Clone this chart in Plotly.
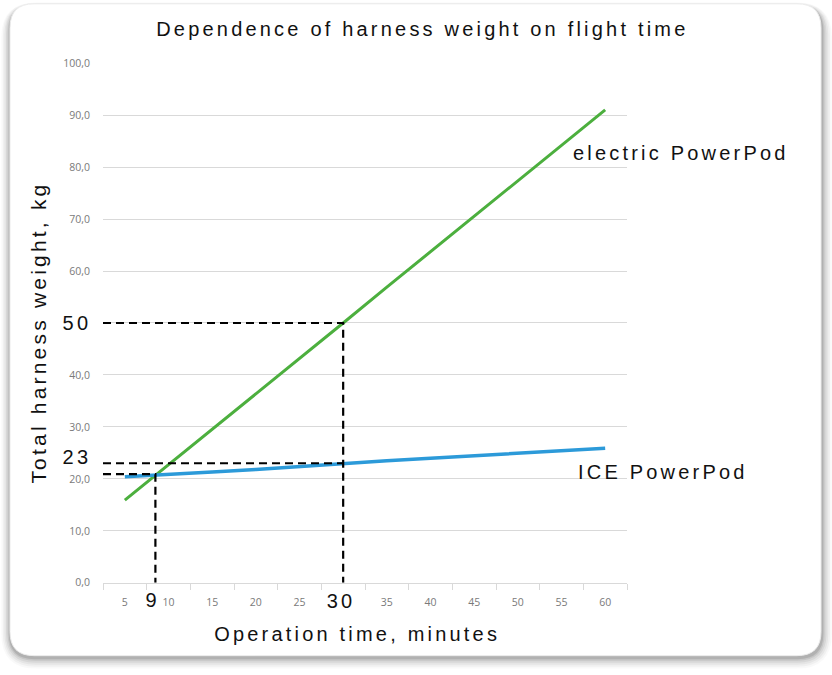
import plotly.graph_objects as go

# data
minutes = [5, 10, 15, 20, 25, 30, 35, 40, 45, 50, 55, 60]
electric = [15.9, 22.7, 29.6, 36.4, 43.2, 50.0, 56.9, 63.7, 70.5, 77.4, 84.2, 91.0]
ice = [20.4, 20.8, 21.3, 21.8, 22.4, 23.0, 23.5, 23.95, 24.4, 24.9, 25.4, 25.9]
y_ticks = [0, 10, 20, 30, 40, 50, 60, 70, 80, 90, 100]
y_labels = ["0,0", "10,0", "20,0", "30,0", "40,0", "", "60,0", "70,0", "80,0", "90,0", "100,0"]
x_labels = ["5", "10", "15", "20", "25", "", "35", "40", "45", "50", "55", "60"]

# guide lines (x, y) pairs
guide_x = [2.5, 30, 30, None, 2.5, 30, None, 2.5, 8.5, 8.5]
guide_y = [50, 50, 0, None, 23.0, 23.0, None, 20.9, 20.9, 0]

W, H = 832, 675
FONT = "Liberation Sans"
# the photographed page comes out slightly squeezed vertically; undo that
SQ, OFF = 0.981, 6.2


def px(x):
    return x / W


def py(y):
    return 1 - ((y - OFF) / SQ) / H


def rounded(x0, y0, x1, y1, r):
    # rounded rectangle path in paper coords, pixel inputs
    pts = [
        f"M {px(x0 + r)} {py(y0)}",
        f"L {px(x1 - r)} {py(y0)}",
        f"Q {px(x1)} {py(y0)} {px(x1)} {py(y0 + r)}",
        f"L {px(x1)} {py(y1 - r)}",
        f"Q {px(x1)} {py(y1)} {px(x1 - r)} {py(y1)}",
        f"L {px(x0 + r)} {py(y1)}",
        f"Q {px(x0)} {py(y1)} {px(x0)} {py(y1 - r)}",
        f"L {px(x0)} {py(y0 + r)}",
        f"Q {px(x0)} {py(y0)} {px(x0 + r)} {py(y0)}",
        "Z",
    ]
    return " ".join(pts)


fig = go.Figure()

fig.add_trace(go.Scatter(x=minutes, y=electric, mode="lines",
                         line=dict(color="#4caf3e", width=3), hoverinfo="skip"))
fig.add_trace(go.Scatter(x=minutes, y=ice, mode="lines",
                         line=dict(color="#2c9ad9", width=3.5), hoverinfo="skip"))
fig.add_trace(go.Scatter(x=guide_x, y=guide_y, mode="lines", connectgaps=False,
                         line=dict(color="black", width=2.2, dash="8px,5px"),
                         hoverinfo="skip"))

# card with soft shadow
shapes = []
for g, a in [(11, 0.025), (9, 0.035), (7, 0.045), (5, 0.06), (3, 0.08), (1.5, 0.1)]:
    shapes.append(dict(type="path", xref="paper", yref="paper", layer="below",
                       path=rounded(10 - g * 0.8, 3 - g * 0.3 + 2, 822 + g * 0.9, 657 + g + 1, 24 + g),
                       fillcolor=f"rgba(0,0,0,{a})", line=dict(width=0)))
shapes.append(dict(type="path", xref="paper", yref="paper", layer="below",
                   path=rounded(10, 3, 821, 656, 24),
                   fillcolor="white", line=dict(color="#ececec", width=1)))

annots = [
    dict(text="electric PowerPod", x=px(571), y=py(152), xanchor="left", size=20),
    dict(text="ICE PowerPod", x=px(576), y=py(472), xanchor="left", size=20),
    dict(text="50", x=px(93), y=py(323), xanchor="right", size=20),
    dict(text="23", x=px(93), y=py(457), xanchor="right", size=20),
    dict(text="9", x=px(152), y=py(600), xanchor="center", size=20),
    dict(text="30", x=px(341), y=py(601), xanchor="center", size=20),
    dict(text="Dependence of harness weight on flight time",
         x=px(422), y=py(28), xanchor="center", size=20),
    dict(text="Operation time, minutes", x=px(357), y=py(634), xanchor="center", size=20),
]
annotations = [dict(xref="paper", yref="paper", x=a["x"], y=a["y"], text=a["text"],
                    xanchor=a["xanchor"], yanchor="middle", showarrow=False,
                    align={"left": "left", "right": "right"}.get(a["xanchor"], "center"),
                    font=dict(family=FONT, size=a["size"], color="#111111"))
               for a in annots]
annotations.append(dict(xref="paper", yref="paper", x=px(38), y=py(333),
                        text="Total harness weight, kg", textangle=-90,
                        showarrow=False, xanchor="center", yanchor="middle",
                        font=dict(family=FONT, size=21, color="#111111")))

fig.update_layout(
    width=W, height=H,
    margin=dict(l=0, r=0, t=0, b=0),
    paper_bgcolor="white",
    plot_bgcolor="rgba(0,0,0,0)",
    showlegend=False,
    separators=",.",
    shapes=shapes,
    annotations=annotations,
    xaxis=dict(
        domain=[px(103), px(627)],
        range=[2.5, 62.5],
        tickvals=minutes,
        ticktext=x_labels,
        ticks="",
        showgrid=False,
        zeroline=False,
        showline=True, linecolor="#d9d9d9", linewidth=1,
        tickfont=dict(family="Open Sans", size=10.5, color="#7a7a7a"),
        ticklabelstandoff=10,
        minor=dict(tick0=2.5, dtick=5, ticks="outside", ticklen=6,
                   tickcolor="#d9d9d9", showgrid=False),
    ),
    yaxis=dict(
        domain=[py(583), py(62.5)],
        range=[0, 100],
        tickvals=y_ticks,
        ticktext=y_labels,
        ticks="",
        showgrid=True, gridcolor="#d9d9d9", gridwidth=1,
        zeroline=False,
        showline=False,
        tickfont=dict(family="Open Sans", size=10.5, color="#7a7a7a"),
        ticklabelstandoff=12,
    ),
)

# pin the graph to the page corner, and letter spacing like the reference text
post = (
    "document.documentElement.style.overflow='hidden';"
    "document.body.style.margin='0';"
    "document.body.style.overflow='hidden';"
    "var gd=document.getElementsByClassName('plotly-graph-div')[0];"
    "gd.style.position='absolute';gd.style.left='0px';gd.style.top='0px';"
    "document.querySelectorAll('.annotation-text').forEach(function(t){"
    "t.style.letterSpacing='3.2px';});"
)
fig.write_html("out.html", post_script=post, config={"displayModeBar": False})
